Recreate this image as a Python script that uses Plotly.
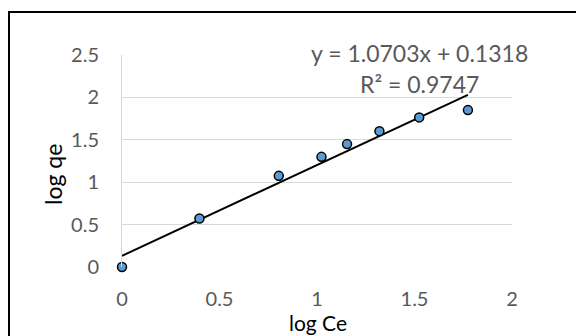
import plotly.graph_objects as go

# Data
log_ce = [0.0, 0.397, 0.804, 1.023, 1.154, 1.320, 1.524, 1.774]
log_qe = [0.0, 0.571, 1.075, 1.299, 1.449, 1.602, 1.764, 1.850]
slope = 1.0703
intercept = 0.1318
r2 = 0.9747
x_ticks = [0, 0.5, 1, 1.5, 2]
y_ticks = [0, 0.5, 1, 1.5, 2, 2.5]

trend_x = [min(log_ce), max(log_ce)]
trend_y = [intercept + slope * v for v in trend_x]

FONT = "Lato"
GRAY = "#595959"

fig = go.Figure()
fig.add_trace(go.Scatter(x=trend_x, y=trend_y, mode="lines",
                         line=dict(color="black", width=2), cliponaxis=False,
                         showlegend=False, hoverinfo="skip"))
fig.add_trace(go.Scatter(x=log_ce, y=log_qe, mode="markers", cliponaxis=False,
                         marker=dict(size=9, color="#5B9BD5",
                                     line=dict(color="black", width=1.5)),
                         showlegend=False))

W, H = 576, 336
L, R, T, B = 122, 64, 55, 69
pw, ph = W - L - R, H - T - B

def px_x(p):
    return (p - L) / pw

def px_y(p):
    return (H - B - p) / ph

fig.update_layout(
    width=W, height=H,
    margin=dict(l=L, r=R, t=T, b=B),
    paper_bgcolor="white", plot_bgcolor="white",
    font=dict(family=FONT, size=20, color=GRAY),
    xaxis=dict(range=[0, 2], tickvals=x_ticks, ticktext=[f"{v:g}" for v in x_ticks],
               showgrid=False, zeroline=False, showline=False,
               ticks="outside", ticklen=14, tickcolor="rgba(0,0,0,0)",
               tickfont=dict(size=20, color=GRAY)),
    yaxis=dict(range=[0, 2.5], tickvals=y_ticks, ticktext=[f"{v:g}" for v in y_ticks],
               showgrid=True, gridcolor="#d9d9d9", gridwidth=1,
               zeroline=False, showline=True, linecolor="#d9d9d9", linewidth=1,
               ticks="outside", ticklen=18, tickcolor="rgba(0,0,0,0)",
               tickfont=dict(size=20, color=GRAY)),
    shapes=[dict(type="rect", xref="paper", yref="paper",
                 x0=px_x(9), x1=px_x(590), y0=px_y(350), y1=px_y(12),
                 line=dict(color="black", width=2), fillcolor="rgba(0,0,0,0)")],
    annotations=[
        dict(text="log Ce", xref="paper", yref="paper", x=px_x(318), y=px_y(335.5),
             showarrow=False, font=dict(size=21, color="black"),
             xanchor="center", yanchor="bottom", borderpad=0),
        dict(text="log qe", xref="paper", yref="paper", x=px_x(53), y=px_y(175),
             showarrow=False, font=dict(size=23, color="black"), textangle=-90,
             xanchor="center", yanchor="middle"),
        dict(text=f"y = {slope:.4f}x + {intercept:.4f}", xref="paper", yref="paper",
             x=px_x(419), y=px_y(53), showarrow=False,
             font=dict(size=23, color=GRAY), xanchor="center", yanchor="middle"),
        dict(text=f"R² = {r2:.4f}", xref="paper", yref="paper",
             x=px_x(419), y=px_y(84), showarrow=False,
             font=dict(size=23, color=GRAY), xanchor="center", yanchor="middle"),
    ],
)

fig.write_html("out.html", config={"displayModeBar": False},
               post_script="document.body.style.margin='0px';")
